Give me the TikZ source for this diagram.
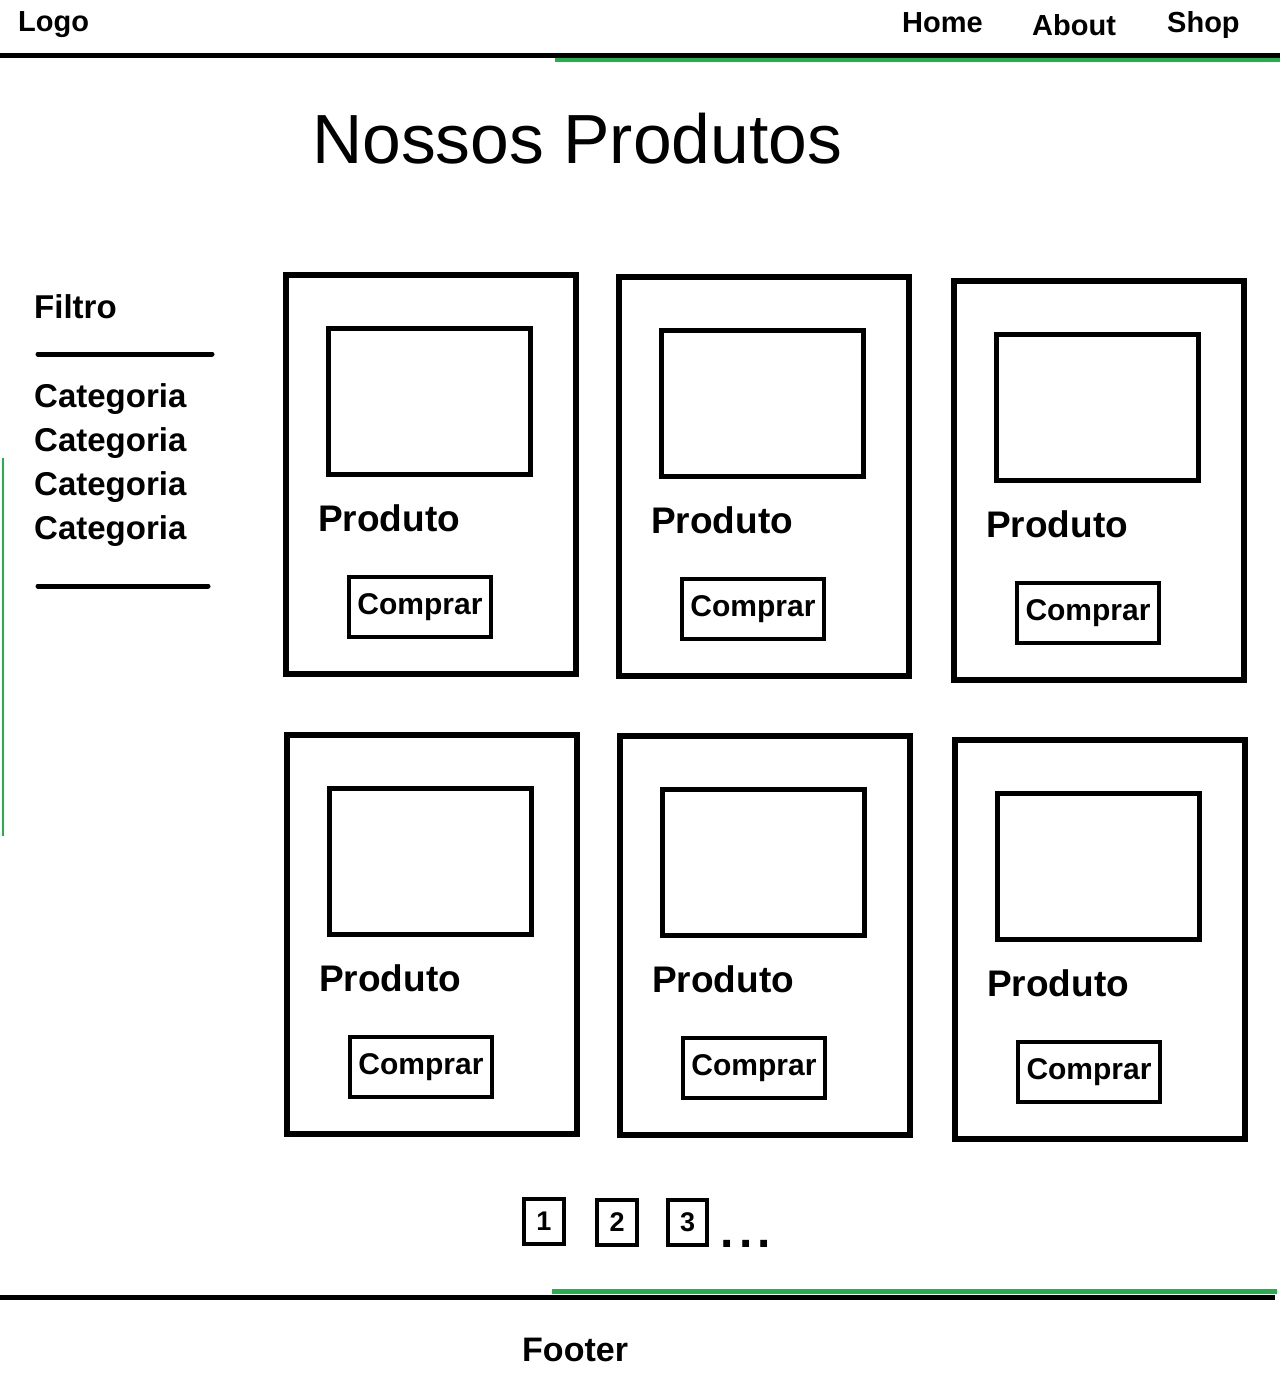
\documentclass[tikz,border=0pt]{standalone}
\usepackage{fontspec}
\setmainfont{Liberation Sans}
\definecolor{paintgreen}{RGB}{34,177,76}
\newcommand\fs[1]{\fontsize{#1}{#1}\selectfont}
\newcommand\prodcard[3]{%
  \node[card] (#1) at (#2+148,#3+202.5) {};
  \node[imgbox] (#1img) at (#2+146.5,#3+129.5) {};
  \node[prodlabel] (#1lbl) at (#2+35,#3+259) {Produto};
  \node[buybox] (#1btn) at (#2+137,#3+335) {Comprar};
}
\begin{document}
\begin{tikzpicture}[x=1pt,y=-1pt,
  card/.style={draw,line width=6pt,minimum width=290pt,minimum height=399pt,inner sep=0pt},
  imgbox/.style={draw,line width=5pt,minimum width=202pt,minimum height=146pt,inner sep=0pt},
  prodlabel/.style={anchor=base west,inner sep=0pt,font=\bfseries\fs{37}},
  buybox/.style={draw,line width=4pt,minimum width=142pt,minimum height=60pt,inner sep=0pt,font=\bfseries\fs{30}},
  pagebox/.style={draw,line width=4pt,minimum width=40pt,minimum height=45pt,inner sep=0pt,font=\bfseries\fs{27}},
  navtext/.style={anchor=base west,inner sep=0pt,font=\bfseries\fs{29}},
  sidetext/.style={anchor=base west,inner sep=0pt,font=\bfseries\fs{33}},
  blackrule/.style={line width=5pt},
  greenrule/.style={draw=paintgreen,line width=4.5pt}
]
\useasboundingbox (0,0) rectangle (1280,1386);
% header
\node[navtext] (logo) at (18,32) {Logo};
\node[navtext] (home) at (902,33) {Home};
\node[navtext] (about) at (1032,36) {About};
\node[navtext] (shop) at (1167,33) {Shop};
\coordinate (hl1) at (0,55.5); \coordinate (hl2) at (1280,55.5);
\coordinate (hg1) at (555,60); \coordinate (hg2) at (1280,60);
\draw[greenrule] (hg1) -- (hg2);
\draw[blackrule] (hl1) -- (hl2);
% title
\node[anchor=base west,inner sep=0pt,font=\fs{69.6}] (title) at (312,164) {Nossos Produtos};
% sidebar
\node[sidetext] (filtro) at (34,318) {Filtro};
\coordinate (f1a) at (38,354); \coordinate (f1b) at (212,354);
\draw[blackrule,line cap=round] (f1a) -- (f1b);
\node[sidetext] (cat1) at (34,407) {Categoria};
\node[sidetext] (cat2) at (34,451) {Categoria};
\node[sidetext] (cat3) at (34,495) {Categoria};
\node[sidetext] (cat4) at (34,539) {Categoria};
\coordinate (f2a) at (38,586); \coordinate (f2b) at (208,586);
\draw[blackrule,line cap=round] (f2a) -- (f2b);
\coordinate (gv1) at (3,458); \coordinate (gv2) at (3,836);
\draw[draw=paintgreen,line width=1.5pt] (gv1) -- (gv2);
% cards
\prodcard{c1}{283}{272}
\prodcard{c2}{616}{274}
\prodcard{c3}{951}{278}
\prodcard{c4}{284}{732}
\prodcard{c5}{617}{733}
\prodcard{c6}{952}{737}
% pagination
\node[pagebox] (p1) at (544,1221.5) {1};
\node[pagebox] (p2) at (617,1222.5) {2};
\node[pagebox,minimum width=39pt] (p3) at (687.5,1222.5) {3};
\node[anchor=base west,inner sep=0pt,font=\bfseries\fs{48}] (dots) at (720,1247) {.\kern5.5pt.\kern5.5pt.};
% footer
\coordinate (fg1) at (552,1291.5); \coordinate (fg2) at (1277,1291.5);
\coordinate (fl1) at (0,1297.5); \coordinate (fl2) at (1275,1297.5);
\draw[greenrule] (fg1) -- (fg2);
\draw[blackrule] (fl1) -- (fl2);
\node[anchor=base west,inner sep=0pt,font=\bfseries\fs{34}] (footer) at (522,1361) {Footer};
\end{tikzpicture}
\end{document}
